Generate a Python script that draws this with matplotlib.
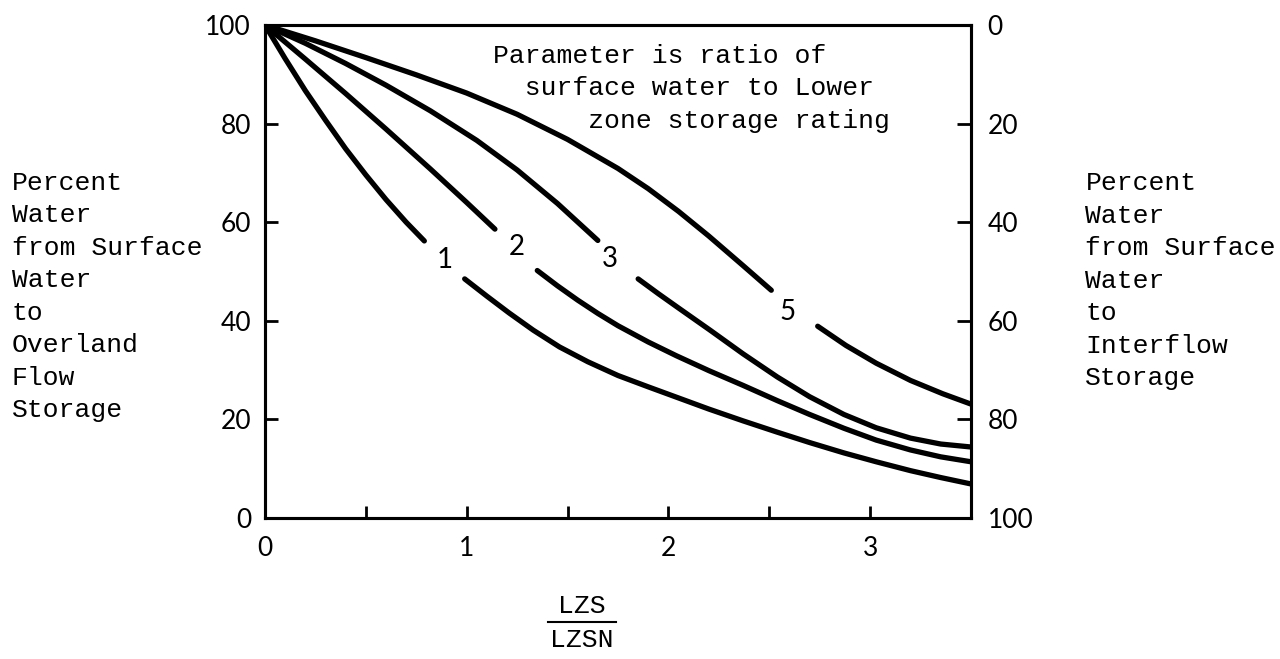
import numpy as np
import matplotlib.pyplot as plt
from matplotlib.lines import Line2D

plt.rcParams['font.family'] = ['Lato', 'DejaVu Sans']
MONO = ['Liberation Mono', 'DejaVu Sans Mono']

nan = np.nan
# curves, nan = gap left open for the curve number
c1_x = [0, 0.1, 0.2, 0.3, 0.4, 0.5, 0.6, 0.7, 0.79, nan,
        0.99, 1.1, 1.21, 1.33, 1.46, 1.6, 1.75, 1.9, 2.04, 2.2, 2.37, 2.54, 2.7, 2.87, 3.03, 3.2, 3.35, 3.5]
c1_y = [100, 93.2, 86.7, 80.7, 74.9, 69.6, 64.6, 60.0, 56.2, nan,
        48.5, 45, 41.6, 38.1, 34.7, 31.7, 28.9, 26.6, 24.5, 22.1, 19.7, 17.4, 15.3, 13.2, 11.4, 9.6, 8.2, 6.9]

c2_x = [0, 0.2, 0.4, 0.6, 0.82, 1.0, 1.14, nan,
        1.35, 1.45, 1.55, 1.65, 1.75, 1.9, 2.04, 2.2, 2.37, 2.54, 2.7, 2.87, 3.03, 3.2, 3.35, 3.5]
c2_y = [100, 93.1, 86.1, 78.9, 70.8, 64.0, 58.6, nan,
        50.2, 47.1, 44.2, 41.5, 39.0, 35.7, 32.9, 29.9, 26.9, 23.8, 21.0, 18.2, 15.8, 13.8, 12.4, 11.4]

c3_x = [0, 0.2, 0.4, 0.6, 0.82, 1.05, 1.25, 1.45, 1.65, nan,
        1.85, 1.95, 2.05, 2.21, 2.37, 2.54, 2.7, 2.87, 3.03, 3.2, 3.35, 3.5]
c3_y = [100, 96.3, 92.2, 87.8, 82.6, 76.6, 70.6, 63.8, 56.3, nan,
        48.5, 45.5, 42.6, 38.0, 33.3, 28.6, 24.6, 21.0, 18.3, 16.2, 15.0, 14.4]

c5_x = [0, 0.25, 0.5, 0.75, 1.0, 1.25, 1.5, 1.75, 1.9, 2.05, 2.2, 2.37, 2.51, nan,
        2.74, 2.88, 3.03, 3.2, 3.36, 3.5]
c5_y = [100, 96.8, 93.4, 89.9, 86.2, 81.9, 76.8, 70.9, 66.8, 62.2, 57.2, 51.2, 46.2, nan,
        38.9, 35.0, 31.4, 27.9, 25.2, 23.1]

curve_names = ['1', '2', '3', '5']
label_x = [0.89, 1.25, 1.71, 2.59]
label_y = [52.3, 55, 52.5, 41.8]

xticks = [0, 1, 2, 3]
xminor = [0.5, 1.5, 2.5]
yticks = [0, 20, 40, 60, 80, 100]

left_text = "Percent\nWater\nfrom Surface\nWater\nto\nOverland\nFlow\nStorage"
right_text = "Percent\nWater\nfrom Surface\nWater\nto\nInterflow\nStorage"
note_text = "Parameter is ratio of\n  surface water to Lower\n      zone storage rating"

fig = plt.figure(figsize=(12.8, 6.59), dpi=100)
ax = fig.add_axes([0.207, 0.214, 0.5516, 0.748])

for xs, ys in [(c1_x, c1_y), (c2_x, c2_y), (c3_x, c3_y), (c5_x, c5_y)]:
    ax.plot(xs, ys, color='black', lw=3.8, solid_capstyle='round', solid_joinstyle='round')

for name, lx, ly in zip(curve_names, label_x, label_y):
    ax.text(lx, ly, name, fontsize=20, ha='center', va='center')

ax.set_xlim(0, 3.5)
ax.set_ylim(0, 100)
ax.set_xticks(xticks)
ax.set_xticks(xminor, minor=True)
ax.set_yticks(yticks)
ax.tick_params(axis='both', which='both', direction='in', length=9, width=2, labelsize=19)
ax.tick_params(axis='x', pad=13)
ax.tick_params(axis='y', pad=10)
for sp in ax.spines.values():
    sp.set_linewidth(2.2)

ax2 = ax.twinx()
ax2.set_ylim(100, 0)
ax2.set_yticks(yticks)
ax2.tick_params(axis='y', direction='in', length=10, width=2, labelsize=19, pad=12)
for sp in ax2.spines.values():
    sp.set_linewidth(2.2)

ax.text(0.323, 0.872, note_text, transform=ax.transAxes, family=MONO, fontsize=19,
        ha='left', va='center', linespacing=1.45)

fig.text(0.009, 0.55, left_text, family=MONO, fontsize=19, ha='left', va='center', linespacing=1.45)
fig.text(0.848, 0.574, right_text, family=MONO, fontsize=19, ha='left', va='center', linespacing=1.45)

# fraction LZS / LZSN under the x axis
fig.text(0.4547, 0.0804, "LZS", family=MONO, fontsize=19, ha='center', va='center')
fig.text(0.4547, 0.0288, "LZSN", family=MONO, fontsize=19, ha='center', va='center')
fig.add_artist(Line2D([0.428, 0.481], [0.0561, 0.0561], color='black', lw=1.5, transform=fig.transFigure))

fig.savefig('out.png', dpi=100)
